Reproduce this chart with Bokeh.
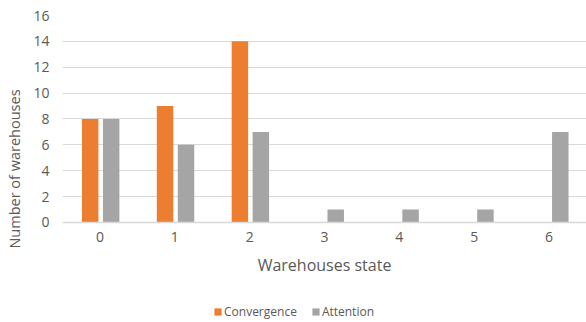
from bokeh.plotting import figure
from bokeh.models import Range1d, Legend, LegendItem, FixedTicker, ColumnDataSource
from bokeh.transform import dodge
from bokeh.embed import file_html
from bokeh.resources import INLINE

# warehouse states and counts per method
states = [0, 1, 2, 3, 4, 5, 6]
convergence = [8, 9, 14, 0, 0, 0, 0]
attention = [8, 6, 7, 1, 1, 1, 7]
y_ticks = [0, 2, 4, 6, 8, 10, 12, 14, 16]

ORANGE = "#ED7D31"
GRAY = "#A5A5A5"
TEXT = "#595959"
GRID = "#D9D9D9"
FONT = "Open Sans"

src = ColumnDataSource(dict(state=states, convergence=convergence, attention=attention))

# the frame runs to the bottom edge; the x axis sits at y = 0 and the legend below it
p = figure(width=586, height=322, output_backend="svg", toolbar_location=None,
           x_range=Range1d(-0.5, 6.5), y_range=Range1d(-7.73, 16),
           min_border_left=62, min_border_right=0, min_border_top=15, min_border_bottom=0)
p.outline_line_color = None

r1 = p.vbar(x=dodge("state", -0.13, range=p.x_range), top="convergence", width=0.22,
            source=src, fill_color=ORANGE, line_color=None)
r2 = p.vbar(x=dodge("state", 0.15, range=p.x_range), top="attention", width=0.22,
            source=src, fill_color=GRAY, line_color=None)

p.xgrid.grid_line_color = None
p.ygrid.grid_line_color = GRID
p.ygrid.ticker = FixedTicker(ticks=y_ticks)

p.yaxis.ticker = FixedTicker(ticks=y_ticks)
p.yaxis.axis_line_color = None
p.yaxis.major_tick_line_color = None
p.yaxis.minor_tick_line_color = None
p.yaxis.major_tick_out = 0
p.yaxis.major_tick_in = 0
p.yaxis.major_label_text_font = FONT
p.yaxis.major_label_text_font_size = "14px"
p.yaxis.major_label_text_color = TEXT
p.yaxis.major_label_standoff = 13
p.yaxis.axis_label = "Number of warehouses"
p.yaxis.axis_label_text_font = FONT
p.yaxis.axis_label_text_font_size = "14.5px"
p.yaxis.axis_label_text_font_style = "normal"
p.yaxis.axis_label_text_color = TEXT
p.yaxis.axis_label_standoff = 6

p.xaxis.fixed_location = 0
p.xaxis.ticker = FixedTicker(ticks=states)
p.xaxis.axis_line_color = GRID
p.xaxis.axis_line_width = 1.5
p.xaxis.major_tick_line_color = None
p.xaxis.minor_tick_line_color = None
p.xaxis.major_tick_out = 0
p.xaxis.major_tick_in = 0
p.xaxis.major_label_text_font = FONT
p.xaxis.major_label_text_font_size = "14px"
p.xaxis.major_label_text_color = TEXT
p.xaxis.major_label_standoff = 10
p.xaxis.axis_label = "Warehouses state"
p.xaxis.axis_label_text_font = FONT
p.xaxis.axis_label_text_font_size = "16px"
p.xaxis.axis_label_text_font_style = "normal"
p.xaxis.axis_label_text_color = TEXT
p.xaxis.axis_label_standoff = 8

legend = Legend(items=[LegendItem(label="Convergence", renderers=[r1]),
                       LegendItem(label="Attention", renderers=[r2])],
                orientation="horizontal", location=(151, 2),
                label_text_font=FONT, label_text_font_size="12px", label_text_color=TEXT,
                glyph_width=9, glyph_height=9, label_standoff=2, spacing=14,
                border_line_color=None, background_fill_alpha=0, margin=0, padding=0)
p.add_layout(legend, "center")

open("out.html", "w").write(file_html(p, INLINE))
